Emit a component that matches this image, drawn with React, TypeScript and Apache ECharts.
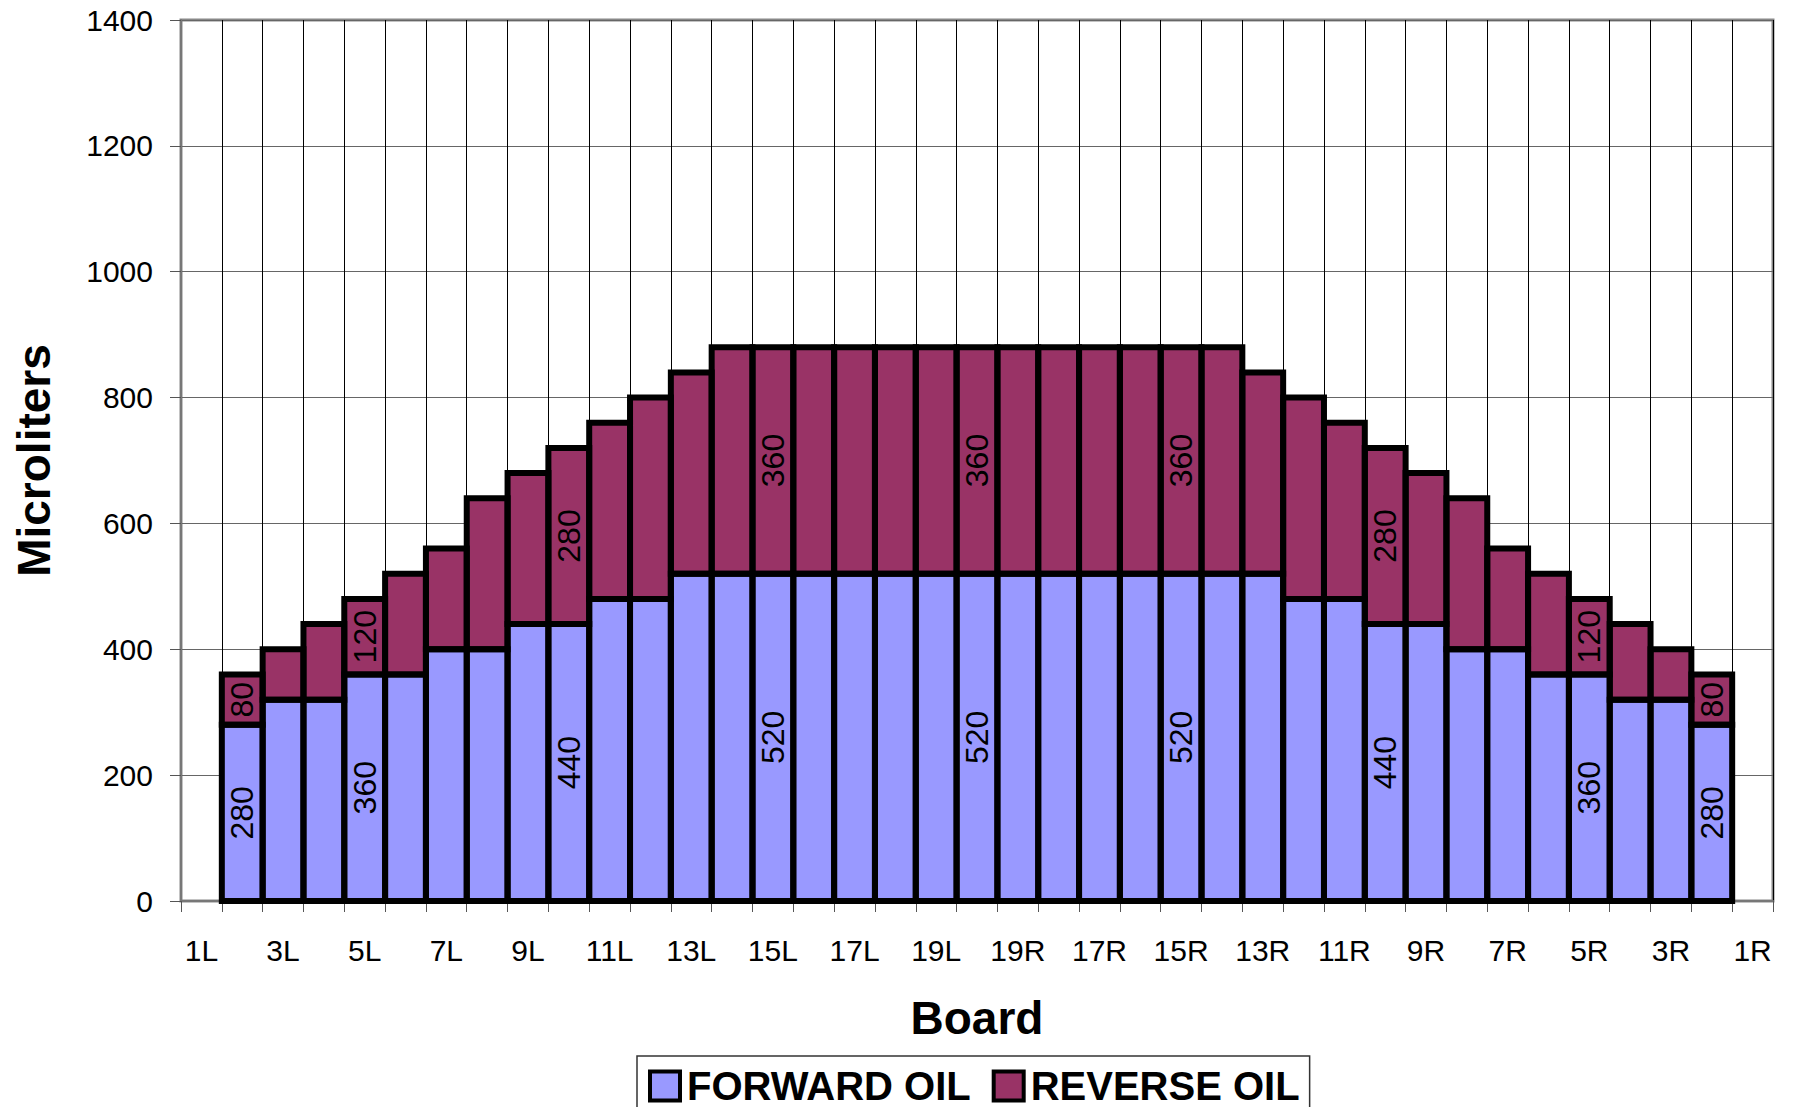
import React, { useEffect, useRef } from "react";
import * as echarts from "echarts";

const BOARDS = [
  "1L", "2L", "3L", "4L", "5L", "6L", "7L", "8L", "9L", "10L",
  "11L", "12L", "13L", "14L", "15L", "16L", "17L", "18L", "19L", "20",
  "19R", "18R", "17R", "16R", "15R", "14R", "13R", "12R", "11R", "10R",
  "9R", "8R", "7R", "6R", "5R", "4R", "3R", "2R", "1R",
];

const FORWARD_OIL = [
  null, 280, 320, 320, 360, 360, 400, 400, 440, 440,
  480, 480, 520, 520, 520, 520, 520, 520, 520, 520,
  520, 520, 520, 520, 520, 520, 520, 480, 480, 440,
  440, 400, 400, 360, 360, 320, 320, 280, null,
];

const REVERSE_OIL = [
  null, 80, 80, 120, 120, 160, 160, 240, 240, 280,
  280, 320, 320, 360, 360, 360, 360, 360, 360, 360,
  360, 360, 360, 360, 360, 360, 320, 320, 280, 280,
  240, 240, 160, 160, 120, 120, 80, 80, null,
];

// boards whose segments carry a value label
const LABELED = [1, 4, 9, 14, 19, 24, 29, 34, 37];

const Y_MIN = 0;
const Y_MAX = 1400;
const Y_STEP = 200;

const FONT = "Liberation Sans, Arial, sans-serif";

const toData = (arr: (number | null)[]) =>
  arr.map((v, i) => ({
    value: v === null ? "-" : v,
    label: { show: LABELED.includes(i) },
  }));

// segment outlines [index, low, high], built from the series arrays
const outlineData: number[][] = [];
FORWARD_OIL.forEach((f, i) => {
  const r = REVERSE_OIL[i];
  if (f === null) return;
  outlineData.push([i, 0, f]);
  if (r !== null) outlineData.push([i, f, f + r]);
});

export default function App() {
  const ref = useRef<HTMLDivElement>(null);

  useEffect(() => {
    if (!ref.current) return;
    const chart = echarts.init(ref.current, undefined, { renderer: "svg" });
    const barLabel = {
      position: "inside",
      rotate: 90,
      fontSize: 32,
      color: "#000",
      fontFamily: FONT,
    };
    chart.setOption({
      animation: false,
      backgroundColor: "#fff",
      textStyle: { fontFamily: FONT },
      grid: {
        left: 181,
        right: 23,
        top: 20,
        bottom: 206,
        show: true,
        borderColor: "#888",
        borderWidth: 3,
        containLabel: false,
      },
      legend: {
        left: 637,
        top: 1056,
        orient: "horizontal",
        padding: [10, 10, 10, 11],
        itemWidth: 30,
        itemHeight: 29,
        itemGap: 21,
        borderColor: "#333",
        borderWidth: 1.5,
        icon: "rect",
        itemStyle: { borderColor: "#000", borderWidth: 4 },
        textStyle: {
          fontSize: 40,
          fontWeight: "bold",
          color: "#000",
          fontFamily: FONT,
          padding: [0, 0, 0, 2],
        },
        data: ["FORWARD OIL", "REVERSE OIL"],
      },
      xAxis: {
        type: "category",
        data: BOARDS,
        boundaryGap: true,
        name: "Board",
        nameLocation: "middle",
        nameGap: 94,
        nameTextStyle: {
          fontSize: 46,
          fontWeight: "bold",
          color: "#000",
          fontFamily: FONT,
          lineHeight: 46,
        },
        axisLine: { show: true, lineStyle: { color: "#777", width: 2 } },
        axisTick: {
          show: true,
          interval: 0,
          length: 11,
          lineStyle: { color: "#555", width: 1 },
        },
        axisLabel: {
          interval: 1,
          fontSize: 30,
          lineHeight: 30,
          margin: 34,
          color: "#000",
          fontFamily: FONT,
        },
        splitLine: {
          show: true,
          interval: 0,
          lineStyle: { color: "#000", width: 1 },
        },
      },
      yAxis: {
        type: "value",
        min: Y_MIN,
        max: Y_MAX,
        interval: Y_STEP,
        name: "Microliters",
        nameLocation: "middle",
        nameRotate: 90,
        nameGap: 124,
        nameTextStyle: {
          fontSize: 46,
          fontWeight: "bold",
          color: "#000",
          fontFamily: FONT,
          lineHeight: 46,
        },
        axisLine: { show: true, lineStyle: { color: "#777", width: 2 } },
        axisTick: {
          show: true,
          length: 11,
          lineStyle: { color: "#555", width: 1 },
        },
        axisLabel: {
          fontSize: 30,
          margin: 28,
          color: "#000",
          fontFamily: FONT,
          formatter: (v: number) => String(v),
        },
        splitLine: { show: true, lineStyle: { color: "#666", width: 1 } },
      },
      series: [
        {
          name: "FORWARD OIL",
          type: "bar",
          stack: "oil",
          barCategoryGap: "0%",
          itemStyle: { color: "#9999FF", borderWidth: 0 },
          label: barLabel,
          data: toData(FORWARD_OIL),
        },
        {
          name: "REVERSE OIL",
          type: "bar",
          stack: "oil",
          barCategoryGap: "0%",
          itemStyle: { color: "#993366", borderWidth: 0 },
          label: barLabel,
          data: toData(REVERSE_OIL),
        },
        {
          name: "outline",
          type: "custom",
          silent: true,
          encode: { x: 0, y: [1, 2] },
          data: outlineData,
          z: 3,
          renderItem: (_params: any, api: any) => {
            const i = api.value(0);
            const lo = api.value(1);
            const hi = api.value(2);
            const p0 = api.coord([i, lo]);
            const p1 = api.coord([i, hi]);
            const w = api.size([1, 0])[0];
            return {
              type: "rect",
              shape: {
                x: p0[0] - w / 2,
                y: p1[1],
                width: w,
                height: p0[1] - p1[1],
              },
              style: { fill: "none", stroke: "#000", lineWidth: 6 },
            };
          },
        },
      ],
    });
    return () => chart.dispose();
  }, []);

  return (
    <div
      ref={ref}
      style={{ position: "fixed", left: 0, top: 0, width: 1796, height: 1107 }}
    />
  );
}
